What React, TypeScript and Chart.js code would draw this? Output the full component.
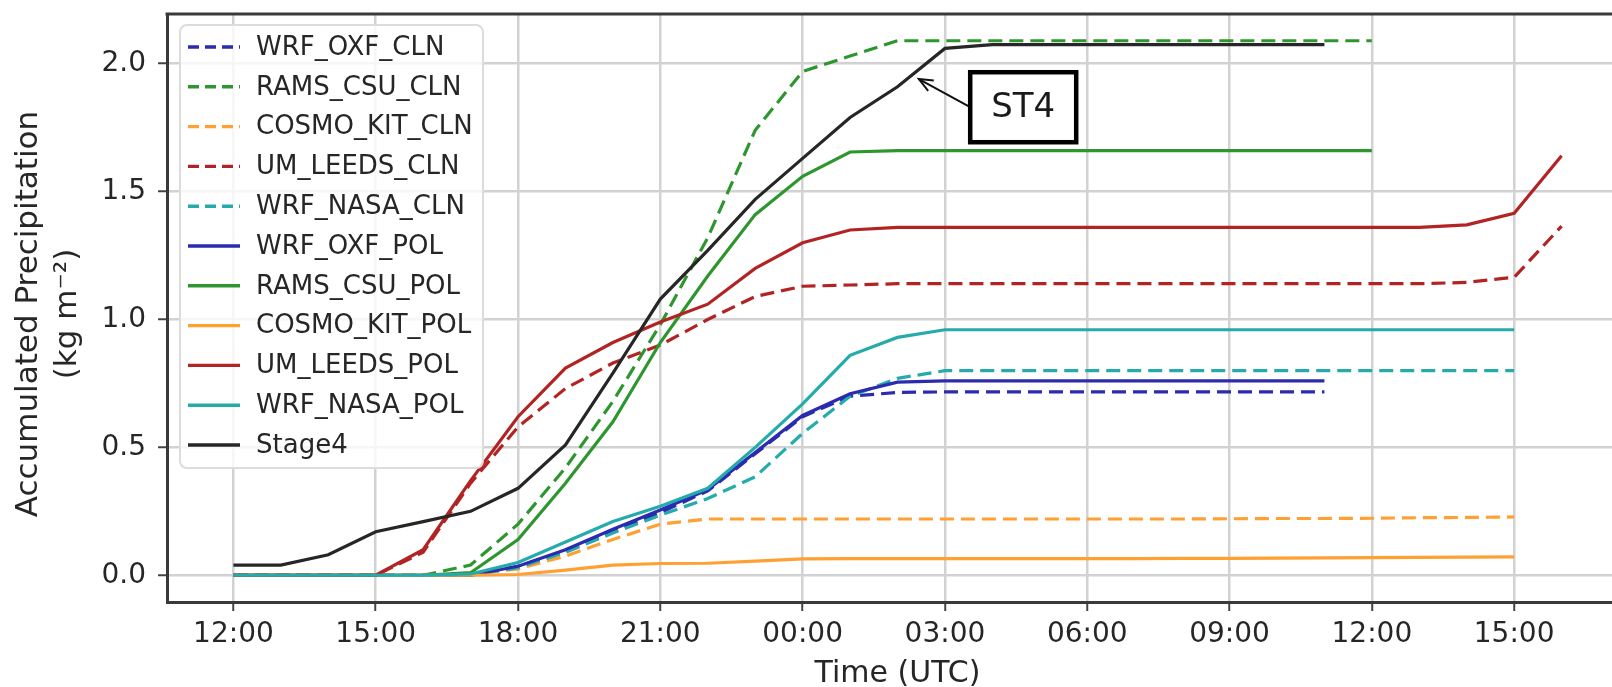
import React, { useEffect, useRef } from 'react';
import { Chart, registerables } from 'chart.js';

Chart.register(...registerables);

// Hours after 12:00 UTC on day 1
const hours = [0, 1, 2, 3, 4, 5, 6, 7, 8, 9, 10, 11, 12, 13, 14, 15, 16, 17, 18, 19, 20, 21, 22, 23, 24, 25, 26, 27, 28];
const tickHours = [0, 3, 6, 9, 12, 15, 18, 21, 24, 27];
const tickLabels = ['12:00', '15:00', '18:00', '21:00', '00:00', '03:00', '06:00', '09:00', '12:00', '15:00'];
const yTicks = [0, 0.5, 1.0, 1.5, 2.0];

const wrfOxfCln = [0, 0, 0, 0, 0, 0, 0.035, 0.095, 0.17, 0.245, 0.33, 0.475, 0.62, 0.70, 0.715, 0.717, 0.717, 0.717, 0.717, 0.717, 0.717, 0.717, 0.717, 0.717];
const ramsCsuCln = [0, 0, 0, 0, 0, 0.04, 0.20, 0.42, 0.68, 0.98, 1.32, 1.74, 1.97, 2.03, 2.09, 2.09, 2.09, 2.09, 2.09, 2.09, 2.09, 2.09, 2.09, 2.09, 2.09];
const cosmoKitCln = [0, 0, 0, 0, 0, 0.005, 0.025, 0.075, 0.14, 0.20, 0.22, 0.22, 0.22, 0.22, 0.22, 0.22, 0.22, 0.22, 0.22, 0.22, 0.22, 0.221, 0.222, 0.222, 0.223, 0.225, 0.226, 0.228];
const umLeedsCln = [0, 0, 0, 0, 0.09, 0.36, 0.58, 0.73, 0.83, 0.90, 1.00, 1.09, 1.13, 1.135, 1.14, 1.14, 1.14, 1.14, 1.14, 1.14, 1.14, 1.14, 1.14, 1.14, 1.14, 1.14, 1.145, 1.165, 1.365];
const wrfNasaCln = [0, 0, 0, 0, 0, 0, 0.03, 0.09, 0.165, 0.235, 0.30, 0.385, 0.555, 0.70, 0.77, 0.80, 0.80, 0.80, 0.80, 0.80, 0.80, 0.80, 0.80, 0.80, 0.80, 0.80, 0.80, 0.80];
const wrfOxfPol = [0, 0, 0, 0, 0, 0, 0.035, 0.10, 0.18, 0.255, 0.335, 0.48, 0.625, 0.71, 0.755, 0.76, 0.76, 0.76, 0.76, 0.76, 0.76, 0.76, 0.76, 0.76];
const ramsCsuPol = [0, 0, 0, 0, 0, 0.01, 0.14, 0.36, 0.60, 0.91, 1.17, 1.41, 1.56, 1.655, 1.66, 1.66, 1.66, 1.66, 1.66, 1.66, 1.66, 1.66, 1.66, 1.66, 1.66];
const cosmoKitPol = [0, 0, 0, 0, 0, 0, 0.003, 0.02, 0.04, 0.046, 0.047, 0.055, 0.064, 0.065, 0.065, 0.065, 0.065, 0.065, 0.065, 0.065, 0.066, 0.066, 0.067, 0.068, 0.069, 0.07, 0.071, 0.072];
const umLeedsPol = [0, 0, 0, 0, 0.10, 0.37, 0.62, 0.81, 0.91, 0.99, 1.06, 1.20, 1.30, 1.35, 1.36, 1.36, 1.36, 1.36, 1.36, 1.36, 1.36, 1.36, 1.36, 1.36, 1.36, 1.36, 1.37, 1.415, 1.64];
const wrfNasaPol = [0, 0, 0, 0, 0, 0.005, 0.05, 0.13, 0.21, 0.27, 0.34, 0.50, 0.67, 0.86, 0.93, 0.96, 0.96, 0.96, 0.96, 0.96, 0.96, 0.96, 0.96, 0.96, 0.96, 0.96, 0.96, 0.96];
const stage4 = [0.04, 0.04, 0.08, 0.17, 0.21, 0.25, 0.34, 0.51, 0.79, 1.08, 1.27, 1.47, 1.63, 1.79, 1.91, 2.06, 2.075, 2.075, 2.075, 2.075, 2.075, 2.075, 2.075, 2.075];

const seriesNames = ['WRF_OXF_CLN', 'RAMS_CSU_CLN', 'COSMO_KIT_CLN', 'UM_LEEDS_CLN', 'WRF_NASA_CLN', 'WRF_OXF_POL', 'RAMS_CSU_POL', 'COSMO_KIT_POL', 'UM_LEEDS_POL', 'WRF_NASA_POL', 'Stage4'];
const seriesValues = [wrfOxfCln, ramsCsuCln, cosmoKitCln, umLeedsCln, wrfNasaCln, wrfOxfPol, ramsCsuPol, cosmoKitPol, umLeedsPol, wrfNasaPol, stage4];
const seriesColors = ['#2b2bb0', '#2e962e', '#ffa033', '#b22424', '#25abab', '#2b2bb0', '#2e962e', '#ffa033', '#b22424', '#25abab', '#262626'];
const seriesDashed = [true, true, true, true, true, false, false, false, false, false, false];

// annotation (data coordinates)
const annotTip = { x: 14.45, y: 1.94 };
const annotBox = { x: 16.65, y: 1.83, text: 'ST4' };

const FONT = '"DejaVu Sans", "Liberation Sans", sans-serif';
const TEXT = '#262626';
const DASH = [14, 7];

const decorPlugin = {
  id: 'decor',
  afterDraw(chart: any) {
    const ctx = chart.ctx as CanvasRenderingContext2D;
    const ca = chart.chartArea;
    const xs = chart.scales.x;
    const ys = chart.scales.y;
    ctx.save();
    // top spine
    ctx.strokeStyle = '#3a3a3a';
    ctx.lineWidth = 3;
    ctx.beginPath();
    ctx.moveTo(ca.left - 1.5, ca.top);
    ctx.lineTo(ca.right + 2, ca.top);
    ctx.stroke();

    // legend
    const lx = 180, ly = 25, lw = 303, lh = 443, r = 7;
    ctx.beginPath();
    ctx.moveTo(lx + r, ly);
    ctx.arcTo(lx + lw, ly, lx + lw, ly + lh, r);
    ctx.arcTo(lx + lw, ly + lh, lx, ly + lh, r);
    ctx.arcTo(lx, ly + lh, lx, ly, r);
    ctx.arcTo(lx, ly, lx + lw, ly, r);
    ctx.closePath();
    ctx.fillStyle = 'rgba(255,255,255,0.8)';
    ctx.fill();
    ctx.strokeStyle = '#dcdcdc';
    ctx.lineWidth = 2;
    ctx.stroke();
    ctx.font = `26px ${FONT}`;
    ctx.textBaseline = 'middle';
    ctx.textAlign = 'left';
    seriesNames.forEach((name, i) => {
      const cy = 47 + i * 39.8;
      ctx.strokeStyle = seriesColors[i];
      ctx.lineWidth = 3.4;
      ctx.setLineDash(seriesDashed[i] ? [11, 6] : []);
      ctx.beginPath();
      ctx.moveTo(188, cy);
      ctx.lineTo(240, cy);
      ctx.stroke();
      ctx.setLineDash([]);
      ctx.fillStyle = TEXT;
      ctx.fillText(name, 256, cy + 1);
    });

    // annotation
    const tx = xs.getPixelForValue(annotTip.x);
    const ty = ys.getPixelForValue(annotTip.y);
    const bx = xs.getPixelForValue(annotBox.x);
    const by = ys.getPixelForValue(annotBox.y);
    const bw = 106, bh = 70;
    const sx = bx - bw / 2, sy = by;
    ctx.strokeStyle = '#111';
    ctx.lineWidth = 2;
    ctx.beginPath();
    ctx.moveTo(sx, sy);
    ctx.lineTo(tx, ty);
    ctx.stroke();
    const ang = Math.atan2(sy - ty, sx - tx);
    const hl = 15;
    ctx.beginPath();
    ctx.moveTo(tx + hl * Math.cos(ang + 0.4), ty + hl * Math.sin(ang + 0.4));
    ctx.lineTo(tx, ty);
    ctx.lineTo(tx + hl * Math.cos(ang - 0.4), ty + hl * Math.sin(ang - 0.4));
    ctx.stroke();
    ctx.fillStyle = '#ffffff';
    ctx.fillRect(bx - bw / 2, by - bh / 2, bw, bh);
    ctx.lineWidth = 4.5;
    ctx.strokeStyle = '#000';
    ctx.strokeRect(bx - bw / 2, by - bh / 2, bw, bh);
    ctx.fillStyle = '#1a1a1a';
    ctx.font = `34px ${FONT}`;
    ctx.textAlign = 'center';
    ctx.textBaseline = 'middle';
    ctx.fillText(annotBox.text, bx, by + 1);

    // axis titles
    ctx.fillStyle = TEXT;
    ctx.font = `30px ${FONT}`;
    ctx.textAlign = 'center';
    ctx.textBaseline = 'middle';
    ctx.fillText('Time (UTC)', (ca.left + ca.right) / 2, 674);
    const cyT = (ca.top + ca.bottom) / 2 + 6;
    ctx.font = `31px ${FONT}`;
    ctx.save();
    ctx.translate(29, cyT);
    ctx.rotate(-Math.PI / 2);
    ctx.fillText('Accumulated Precipitation', 0, 0);
    ctx.restore();
    ctx.save();
    ctx.translate(68, cyT);
    ctx.rotate(-Math.PI / 2);
    ctx.fillText('(kg m\u207B\u00B2)', 0, 0);
    ctx.restore();
    ctx.restore();
  },
};

const zeroPad = (s: any) => {
  s.paddingTop = 0;
  s.paddingBottom = 0;
  s.paddingLeft = 0;
  s.paddingRight = 0;
};

export default function App() {
  const ref = useRef<HTMLCanvasElement | null>(null);
  useEffect(() => {
    if (!ref.current) return;
    const datasets = seriesNames.map((name, i) => ({
      label: name,
      data: seriesValues[i].map((v, k) => ({ x: hours[k], y: v })),
      borderColor: seriesColors[i],
      backgroundColor: seriesColors[i],
      borderWidth: 3.2,
      borderDash: seriesDashed[i] ? DASH : [],
      pointRadius: 0,
      tension: 0,
      fill: false,
      order: seriesNames.length - 1 - i,
    }));
    const chart = new Chart(ref.current, {
      type: 'line',
      data: { datasets },
      plugins: [decorPlugin],
      options: {
        animation: false,
        responsive: false,
        devicePixelRatio: 1,
        events: [],
        layout: { padding: { left: 0, top: 14, right: 12, bottom: 0 } },
        plugins: { legend: { display: false }, tooltip: { enabled: false } },
        scales: {
          x: {
            type: 'linear',
            min: -1.4,
            max: 29.4,
            afterFit: (s: any) => { s.height = 85; zeroPad(s); },
            afterBuildTicks: (s: any) => { s.ticks = tickHours.map((v) => ({ value: v })); },
            ticks: {
              autoSkip: false,
              maxRotation: 0,
              padding: 7,
              color: TEXT,
              font: { family: FONT, size: 28 },
              callback: (v: any) => tickLabels[tickHours.indexOf(Number(v))] ?? '',
            },
            grid: { color: '#d2d2d2', lineWidth: 2.5, tickLength: 9, tickColor: '#444', tickWidth: 2 },
            border: { display: true, color: '#3a3a3a', width: 3 },
          },
          y: {
            type: 'linear',
            min: -0.1045,
            max: 2.1945,
            afterFit: (s: any) => { s.width = 167; zeroPad(s); },
            afterBuildTicks: (s: any) => { s.ticks = yTicks.map((v) => ({ value: v })); },
            ticks: {
              padding: 12,
              color: TEXT,
              font: { family: FONT, size: 28 },
              callback: (v: any) => Number(v).toFixed(1),
            },
            grid: { color: '#d2d2d2', lineWidth: 2.5, tickLength: 9, tickColor: '#444', tickWidth: 2 },
            border: { display: true, color: '#3a3a3a', width: 3 },
          },
        },
      },
    });
    return () => chart.destroy();
  }, []);
  return (
    <div style={{ position: 'fixed', left: 0, top: 0, width: 1612, height: 687, overflow: 'hidden', background: '#fff' }}>
      <canvas ref={ref} width={1640} height={687} style={{ width: 1640, height: 687, display: 'block' }} />
    </div>
  );
}
